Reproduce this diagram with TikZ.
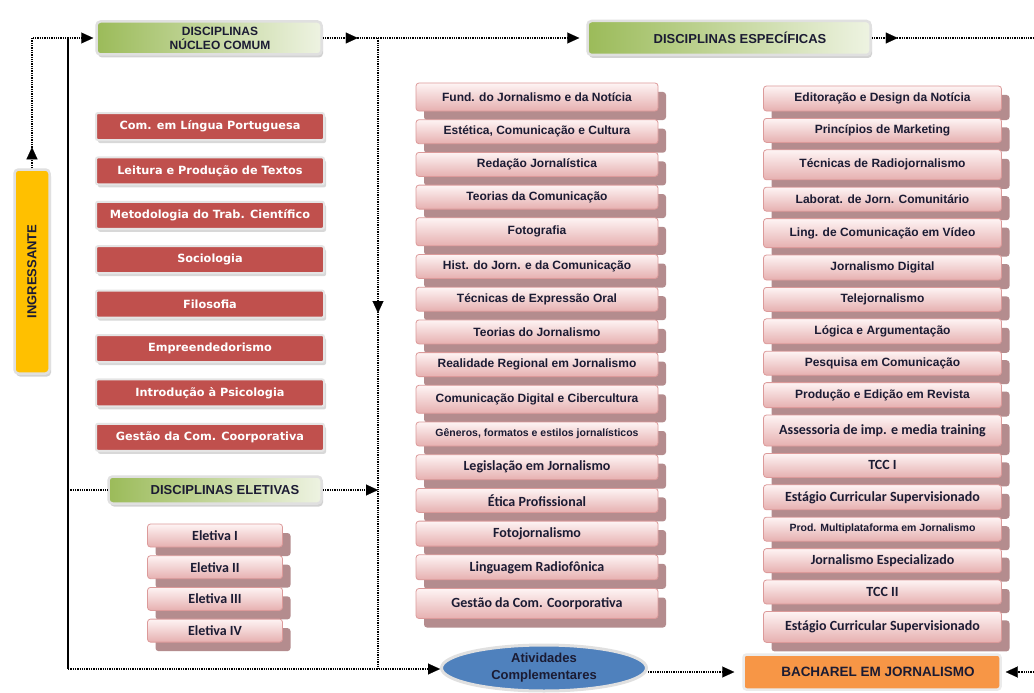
\documentclass[tikz,border=0pt]{standalone}
\usepackage{fontspec}
\setmainfont{Liberation Sans}
\newfontfamily\calfont{Carlito}
\newfontfamily\tahfont{DejaVu Sans}
\usetikzlibrary{arrows.meta,positioning,shadows,shapes.geometric,decorations.markings}
\definecolor{corered}{HTML}{C0504D}
\definecolor{greendark}{HTML}{9BBB59}
\definecolor{greenlight}{HTML}{EEF3E2}
\definecolor{ingrgold}{HTML}{FFC000}
\definecolor{atvblue}{HTML}{4F81BD}
\definecolor{bachorange}{HTML}{F79646}
\definecolor{pinktop}{HTML}{FEF4F4}
\definecolor{pinkbot}{HTML}{E6B0B0}
\definecolor{pinkline}{HTML}{DC9A9A}
\definecolor{mauve}{HTML}{B48C8E}
\definecolor{textdark}{HTML}{1B1B33}

\begin{document}
\begin{tikzpicture}[
  x=1pt, y=-1pt,
  head/.style={draw=black!12, line width=2.5pt, rounded corners=4pt, left color=greendark, right color=greenlight,
    text=textdark, align=center, inner sep=2pt, font=\bfseries\fontsize{13}{15}\selectfont,
    drop shadow={shadow xshift=1.5pt, shadow yshift=-3pt, fill=black!35, opacity=.5}},
  corebox/.style={fill=corered, draw=black!10, line width=2pt, rounded corners=2pt, minimum width=228pt,
    minimum height=27pt, inner sep=2pt, text=white, font=\tahfont\bfseries\fontsize{11.3}{13}\selectfont,
    drop shadow={shadow xshift=2pt, shadow yshift=-3pt, fill=black!30, opacity=.5}},
  pinkbox/.style={draw=pinkline, line width=.8pt, rounded corners=3pt, top color=pinktop, bottom color=pinkbot,
    minimum height=24pt, inner sep=2pt, text=textdark, font=\bfseries\fontsize{12}{14}\selectfont,
    drop shadow={shadow xshift=8pt, shadow yshift=-9pt, fill=mauve, opacity=1}},
  midbox/.style={pinkbox, minimum width=242pt},
  rightbox/.style={pinkbox, minimum width=238pt},
  eletbox/.style={pinkbox, minimum width=135pt, minimum height=23pt},
  cal/.style={font=\calfont\bfseries\fontsize{14}{16}\selectfont},
  tiny/.style={font=\bfseries\fontsize{10.5}{12}\selectfont},
  flow/.style={line width=1.9pt, dash pattern=on 1.3pt off 1pt},
  trunk/.style={line width=1.6pt},
  tip/.style={-{Triangle[length=12pt, width=11pt, line width=.1pt]}},
  midtip/.style={postaction={decorate}, decoration={markings,
    mark=at position #1 with {\arrow{Triangle[length=12pt, width=11pt, line width=.1pt]}}}}
]
  \path[use as bounding box, fill=white] (0,0) rectangle (1034,693);

  \node[head, fill=ingrgold, left color=ingrgold, right color=ingrgold, minimum width=35pt, minimum height=204pt] (ingr) at (32,271.5) {\rotatebox{90}{INGRESSANTE}};

  \node[head, minimum width=225pt, minimum height=33pt, font=\bfseries\fontsize{12}{14}\selectfont] (nucleo) at (209,38) {\hspace*{22pt}DISCIPLINAS\\\hspace*{22pt}NÚCLEO COMUM};
  \node[head, minimum width=283pt, minimum height=34pt] (espec) at (729,38) {\hspace*{22pt}DISCIPLINAS ESPECÍFICAS};

  \node[corebox] (c1) at (210,126.5) {Com. em Língua Portuguesa};
  \node[corebox, below=15.4pt of c1] (c2) {Leitura e Produção de Textos};
  \node[corebox, below=15.4pt of c2] (c3) {Metodologia do Trab. Científico};
  \node[corebox, below=15.4pt of c3] (c4) {Sociologia};
  \node[corebox, below=15.4pt of c4] (c5) {Filosofia};
  \node[corebox, below=15.4pt of c5] (c6) {Empreendedorismo};
  \node[corebox, below=15.4pt of c6] (c7) {Introdução à Psicologia};
  \node[corebox, below=15.4pt of c7] (c8) {Gestão da Com. Coorporativa};

  \node[head, minimum width=213pt, minimum height=27pt] (eletivas) at (215,490) {\hspace*{20pt}DISCIPLINAS ELETIVAS};
  \node[eletbox, cal] (e1) at (215,535.5) {Eletiva I};
  \node[eletbox, cal, below=7.9pt of e1] (e2) {Eletiva II};
  \node[eletbox, cal, below=7.9pt of e2] (e3) {Eletiva III};
  \node[eletbox, cal, below=7.9pt of e3] (e4) {Eletiva IV};

  \node[midbox, minimum height=28pt] (m1) at (537,97) {Fund. do Jornalismo e da Notícia};
  \node[midbox, below=7.9pt of m1] (m2) {Estética, Comunicação e Cultura};
  \node[midbox, below=7.9pt of m2] (m3) {Redação Jornalística};
  \node[midbox, below=7.9pt of m3] (m4) {Teorias da Comunicação};
  \node[midbox, minimum height=28pt, below=7.9pt of m4] (m5) {Fotografia};
  \node[midbox, below=7.9pt of m5] (m6) {Hist. do Jorn. e da Comunicação};
  \node[midbox, below=7.9pt of m6] (m7) {Técnicas de Expressão Oral};
  \node[midbox, below=7.9pt of m7] (m8) {Teorias do Jornalismo};
  \node[midbox, below=7.9pt of m8] (m9) {Realidade Regional em Jornalismo};
  \node[midbox, minimum height=28pt, below=7.9pt of m9] (m10) {Comunicação Digital e Cibercultura};
  \node[midbox, tiny, below=7.9pt of m10] (m11) {Gêneros, formatos e estilos jornalísticos};
  \node[midbox, cal, minimum height=25pt, below=7.9pt of m11] (m12) {Legislação em Jornalismo};
  \node[midbox, cal, below=7.9pt of m12] (m13) {Ética Profissional};
  \node[midbox, cal, minimum height=25pt, below=7.9pt of m13] (m14) {Fotojornalismo};
  \node[midbox, cal, minimum height=25pt, below=7.9pt of m14] (m15) {Linguagem Radiofônica};
  \node[midbox, cal, minimum height=30pt, below=7.9pt of m15] (m16) {Gestão da Com. Coorporativa};

  \node[rightbox, minimum height=25pt] (r1) at (882.5,98.5) {Editoração e Design da Notícia};
  \node[rightbox, below=6.6pt of r1] (r2) {Princípios de Marketing};
  \node[rightbox, minimum height=30pt, below=6.6pt of r2] (r3) {Técnicas de Radiojornalismo};
  \node[rightbox, below=6.6pt of r3] (r4) {Laborat. de Jorn. Comunitário};
  \node[rightbox, minimum height=29pt, below=6.6pt of r4] (r5) {Ling. de Comunicação em Vídeo};
  \node[rightbox, minimum height=25pt, below=6.6pt of r5] (r6) {Jornalismo Digital};
  \node[rightbox, below=6.6pt of r6] (r7) {Telejornalismo};
  \node[rightbox, minimum height=25pt, below=6.6pt of r7] (r8) {Lógica e Argumentação};
  \node[rightbox, below=6.6pt of r8] (r9) {Pesquisa em Comunicação};
  \node[rightbox, minimum height=25pt, below=6.6pt of r9] (r10) {Produção e Edição em Revista};
  \node[rightbox, cal, minimum height=31pt, below=6.6pt of r10] (r11) {Assessoria de imp. e media training};
  \node[rightbox, cal, below=6.6pt of r11] (r12) {TCC I};
  \node[rightbox, cal, minimum height=25pt, below=6.6pt of r12] (r13) {Estágio Curricular Supervisionado};
  \node[rightbox, tiny, below=6.6pt of r13] (r14) {Prod. Multiplataforma em Jornalismo};
  \node[rightbox, cal, below=6.6pt of r14] (r15) {Jornalismo Especializado};
  \node[rightbox, cal, below=6.6pt of r15] (r16) {TCC II};
  \node[rightbox, cal, minimum height=31pt, below=6.6pt of r16] (r17) {Estágio Curricular Supervisionado};

  \node[ellipse, draw=black!12, line width=3pt, fill=atvblue, minimum width=205pt, minimum height=46pt, inner sep=1pt,
    align=center, text=textdark, font=\bfseries\fontsize{13}{17}\selectfont] (atv) at (544,668) {Atividades\\Complementares};
  \node[draw=black!8, line width=2.5pt, fill=bachorange, rounded corners=3pt, minimum width=257pt, minimum height=35pt,
    text=textdark, font=\bfseries\fontsize{13.5}{15}\selectfont] (bach) at (872,672) {\hspace*{12pt}BACHAREL EM JORNALISMO};

  \coordinate (lt) at (68,38);
  \coordinate (lb) at (68,669);
  \coordinate (le) at (68,490);
  \coordinate (rt) at (378,38);
  \coordinate (rb) at (378,669);
  \coordinate (re) at (378,490);
  \coordinate (edgetop) at (1034,38);
  \coordinate (edgebot) at (1034,672);

  \draw[flow, tip, midtip=21pt, shorten >=2pt] (ingr.north) |- (nucleo.west);
  \draw[trunk] (lt) -- (lb);
  \draw[flow, tip] (lb) -- (lb -| atv.west);
  \draw[flow] (le) -- (eletivas.west);
  \draw[flow, tip, midtip=35pt, shorten >=7pt] (nucleo.east) -- (espec.west);
  \draw[flow, midtip=275pt] (rt) -- (rb);
  \draw[flow, tip] (eletivas.east) -- (re);
  \draw[flow, midtip=26pt] (espec.east) -- (edgetop);
  \draw[flow, tip, shorten >=8pt] (atv.east |- bach.west) -- (bach.west);
  \draw[flow, tip, shorten >=4pt] (edgebot) -- (bach.east);
\end{tikzpicture}
\end{document}
